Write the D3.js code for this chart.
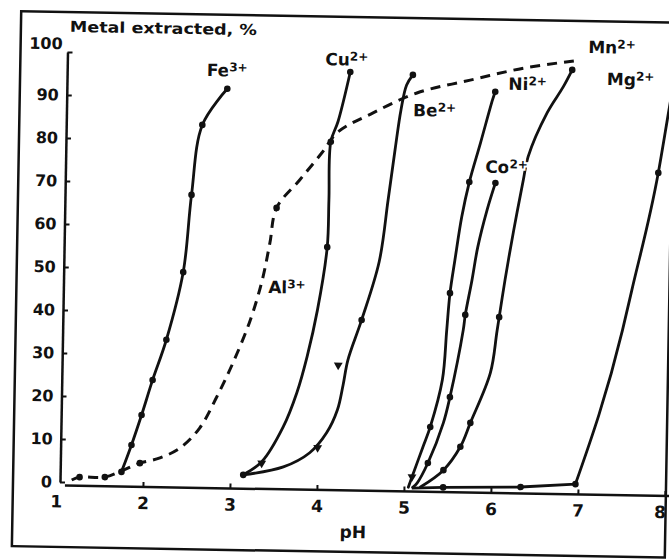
<!DOCTYPE html>
<html>
<head>
<meta charset="utf-8">
<script src="https://cdn.jsdelivr.net/npm/d3@7"></script>
<style>
  body { margin: 0; background: #fff; }
  svg { display: block; }
  text { font-family: "DejaVu Sans", sans-serif; font-weight: bold; fill: #111; }
</style>
</head>
<body>
<svg id="chart" width="669" height="560"></svg>
<script>
// axis ticks
const phTicks = [1, 2, 3, 4, 5, 6, 7, 8];
const pctTicks = [0, 10, 20, 30, 40, 50, 60, 70, 80, 90, 100];

// curves, [pH, metal extracted %]
const fe = [[1.75,2.6],[1.86,8.9],[1.97,15.9],[2.09,24.1],[2.24,33.5],[2.42,49.3],[2.50,67.3],[2.61,83.6],[2.89,92.1]];
const al = [[1.18,0.5],[1.27,1.2],[1.56,1.3],[1.75,2.8],[1.96,4.7],[2.19,6.0],[2.42,8.4],[2.64,13.1],[2.83,20.4],[3.01,28.4],
            [3.20,38.4],[3.33,47.8],[3.41,56.4],[3.48,64.6],[3.74,71.2],[3.99,77.6],[4.17,82.5],[4.57,87.1],[5.07,91.9],
            [5.68,95.1],[6.29,98.1],[6.94,100.2]];
const cu = [[3.15,2.4],[3.36,5.5],[3.60,13.7],[3.75,21.7],[3.86,30.1],[3.97,41.0],[4.07,55.7],[4.08,66.7],[4.09,80.2],
            [4.17,85.0],[4.30,96.5]];
const be = [[3.15,2.4],[3.61,4.4],[3.91,7.8],[4.10,12.5],[4.22,17.9],[4.28,23.7],[4.33,29.5],[4.48,38.9],[4.67,52.5],
            [4.76,66.9],[4.83,78.6],[4.89,87.9],[4.95,93.7],[5.02,96.1]];
const ni = [[5.05,0.2],[5.09,2.6],[5.21,9.6],[5.29,14.3],[5.42,25.3],[5.46,36.9],[5.49,45.5],[5.54,53.2],[5.61,63.3],
            [5.69,71.4],[5.81,80.5],[5.94,90.6],[5.97,92.5]];
const co = [[5.10,0.2],[5.15,1.2],[5.27,5.9],[5.44,15.3],[5.51,21.3],[5.65,37.0],[5.67,40.5],[5.74,48.6],[5.80,56.3],
            [5.90,65.0],[5.99,71.3]];
const mn = [[5.19,0.3],[5.45,4.3],[5.64,9.8],[5.75,15.4],[5.97,27.1],[6.04,37.1],[6.12,48.8],[6.21,60.4],[6.31,72.1],
            [6.36,77.5],[6.57,87.8],[6.75,93.9],[6.85,97.9]];
const mg = [[5.09,0.0],[5.45,0.3],[6.34,0.7],[6.97,1.6],[7.48,37.6],[7.58,47.0],[7.86,74.3],[7.97,89.0],[8.03,97.0]];

// measured points drawn as dots / triangles
const dots = [[1.75,2.6],[1.86,8.9],[1.97,15.9],[2.09,24.1],[2.24,33.5],[2.42,49.3],[2.50,67.3],[2.61,83.6],[2.89,92.1],
              [1.27,1.2],[1.56,1.3],[1.96,4.7],[3.48,64.6],
              [3.15,2.4],[4.07,55.7],[4.09,80.2],[4.30,96.5],
              [4.48,38.9],[5.02,96.1],
              [5.29,14.3],[5.49,45.5],[5.69,71.4],[5.97,92.5],
              [5.27,5.9],[5.51,21.3],[5.67,40.5],[5.99,71.3],
              [5.45,4.3],[5.64,9.8],[5.75,15.4],[6.06,40.1],[6.85,97.9],
              [5.45,0.3],[6.34,0.7],[6.97,1.6],[7.86,74.3]];
const triangles = [[3.36,5.2],[4.00,9.0],[4.22,28.3],[5.09,2.6]];

// ion names, charges and where their labels sit [pH, %]
const ions = ["Fe", "Al", "Cu", "Be", "Ni", "Co", "Mn", "Mg"];
const charges = ["3+", "3+", "2+", "2+", "2+", "2+", "2+", "2+"];
const labelAt = [[2.65,95.0],[3.40,44.8],[4.01,98.0],[5.03,86.5],[6.12,93.0],[5.87,73.6],[7.03,101.9],[7.25,94.5]];

const svg = d3.select("#chart");
svg.append("rect").attr("width", 669).attr("height", 560).attr("fill", "#fff");

// the scanned figure sits slightly tilted
const g = svg.append("g").attr("transform", "translate(62,482) rotate(1)");

const x = d3.scaleLinear().domain([1, 8]).range([-6, 603]);
const y = d3.scaleLinear().domain([0, 100]).range([0, -430]);

// page frame
g.append("rect")
  .attr("x", -49).attr("y", -470).attr("width", 653).attr("height", 535)
  .attr("fill", "none").attr("stroke", "#111").attr("stroke-width", 2.5);

// x axis
const gx = g.append("g").attr("transform", "translate(0,3.5)")
  .call(d3.axisBottom(x).tickValues(phTicks).tickFormat(d3.format("d"))
    .tickSizeInner(-5).tickSizeOuter(0).tickPadding(10));
gx.select(".domain").remove();
gx.selectAll(".tick line").filter(d => d === 1).remove();
gx.append("line").attr("x1", 3).attr("x2", 640).attr("stroke", "#111").attr("stroke-width", 2.5);
gx.selectAll(".tick line").attr("stroke", "#111").attr("stroke-width", 2);
gx.selectAll(".tick text").attr("font-size", 17).attr("font-family", "DejaVu Sans").attr("font-weight", "bold").attr("fill", "#111");
gx.selectAll(".tick text").filter(d => d === 8).attr("dx", -5);

// y axis
const gy = g.append("g").attr("transform", "translate(-2,0)")
  .call(d3.axisLeft(y).tickValues(pctTicks).tickSizeInner(-5).tickSizeOuter(0).tickPadding(8));
gy.select(".domain").attr("stroke", "#111").attr("stroke-width", 2.5);
gy.selectAll(".tick line").attr("stroke", "#111").attr("stroke-width", 2);
gy.selectAll(".tick text").attr("font-size", 16).attr("font-family", "DejaVu Sans").attr("font-weight", "bold").attr("fill", "#111");
gy.selectAll(".tick text").filter(d => d === 100).attr("dx", 3).attr("dy", "-0.2em");

// curves
const line = d3.line().x(d => x(d[0])).y(d => y(d[1])).curve(d3.curveCatmullRom.alpha(0.5));
const straight = d3.line().x(d => x(d[0])).y(d => y(d[1]));
const rising = d3.line().x(d => x(d[0])).y(d => y(d[1])).curve(d3.curveMonotoneX);
const curves = [fe, cu, be, ni, co, mn];
g.selectAll("path.curve").data(curves).enter().append("path")
  .attr("class", "curve")
  .attr("d", line)
  .attr("fill", "none").attr("stroke", "#111").attr("stroke-width", 2.8)
  .attr("stroke-linejoin", "round").attr("stroke-linecap", "round");
// Mg: flat run, sharp corner, then the climb
g.append("path").attr("d", straight(mg.slice(0, 4)) + rising(mg.slice(3)).replace(/^M/, "L"))
  .attr("fill", "none").attr("stroke", "#111").attr("stroke-width", 2.8)
  .attr("stroke-linejoin", "round");
g.append("path").attr("d", line(al))
  .attr("fill", "none").attr("stroke", "#111").attr("stroke-width", 3)
  .attr("stroke-dasharray", "10,7");

g.selectAll("circle.pt").data(dots).enter().append("circle")
  .attr("class", "pt")
  .attr("cx", d => x(d[0])).attr("cy", d => y(d[1])).attr("r", 3.3).attr("fill", "#111");
g.selectAll("path.tri").data(triangles).enter().append("path")
  .attr("class", "tri")
  .attr("d", d3.symbol(d3.symbolTriangle, 34))
  .attr("transform", d => `translate(${x(d[0])},${y(d[1])}) rotate(180)`)
  .attr("fill", "#111");

// ion labels
const lab = g.selectAll("text.ion").data(ions).enter().append("text")
  .attr("class", "ion")
  .attr("x", (d, i) => x(labelAt[i][0])).attr("y", (d, i) => y(labelAt[i][1]))
  .attr("font-size", 17)
  .attr("stroke", "#fff").attr("stroke-width", 4).attr("paint-order", "stroke");
lab.append("tspan").text(d => d);
lab.append("tspan").attr("font-size", 12).attr("dy", -5).text((d, i) => charges[i]);

// titles
g.append("text").attr("x", 0).attr("y", y(104.7))
  .attr("font-size", 15).attr("textLength", 187).attr("lengthAdjust", "spacingAndGlyphs")
  .text("Metal extracted, %");
g.append("text").attr("x", x(4.27)).attr("y", 51).attr("font-size", 17).text("pH");
</script>
</body>
</html>
